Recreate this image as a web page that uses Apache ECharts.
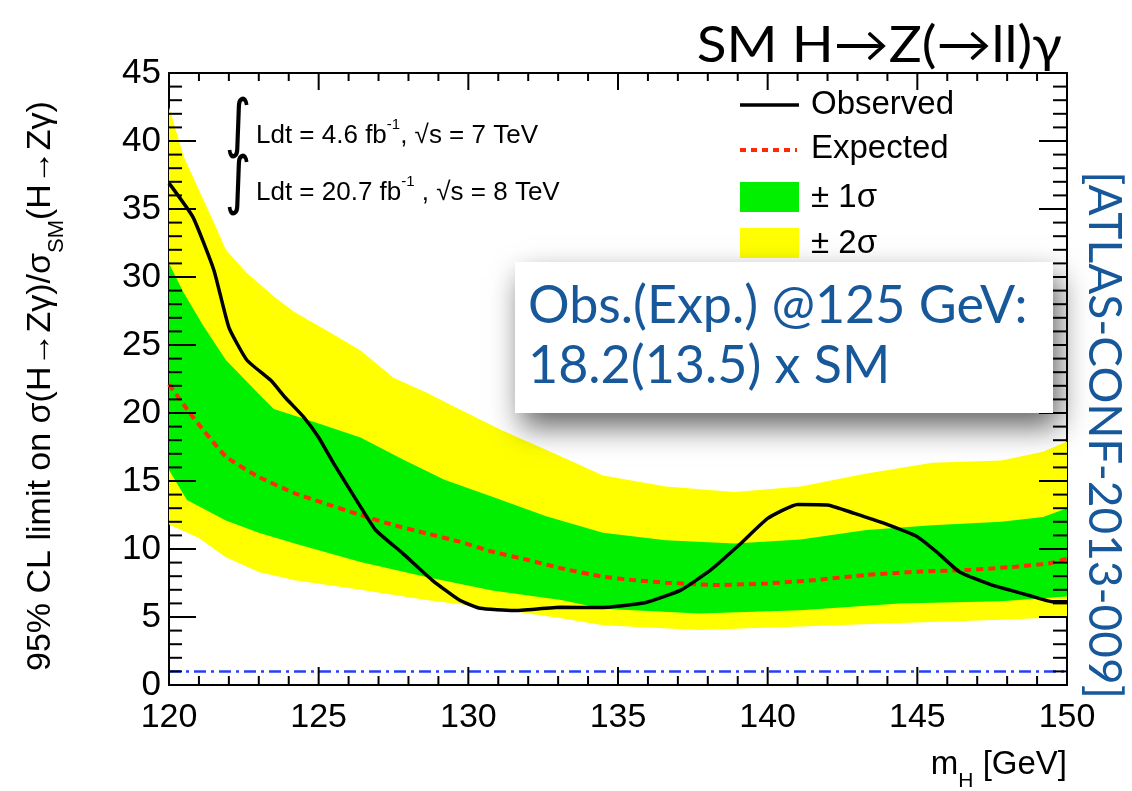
<!DOCTYPE html>
<html>
<head>
<meta charset="utf-8">
<script src="https://cdn.jsdelivr.net/npm/echarts@6/dist/echarts.min.js"></script>
<style>
  html, body { margin: 0; padding: 0; background: #ffffff; }
  #main { width: 1132px; height: 791px; }
</style>
</head>
<body>
<div id="main"></div>
<script>
// Higgs mass range [GeV] and limit range (x SM)
const massRange = [120, 150];
const limitRange = [0, 45];
const massStep = 5, limitStep = 5;

// Observed 95% CL limit, [mH, limit]
const observed = [
  [120.0, 36.9], [120.8, 34.4], [121.5, 30.5], [122.0, 26.3], [122.6, 23.9],
  [123.4, 22.4], [123.9, 21.1], [124.5, 19.7], [125.0, 18.2], [125.5, 16.3],
  [126.4, 13.1], [126.9, 11.4], [127.8, 9.7], [128.8, 7.7], [129.7, 6.25],
  [130.4, 5.64], [131.5, 5.47], [133.1, 5.71], [134.4, 5.69], [135.9, 6.05],
  [137.1, 6.98], [138.1, 8.46], [139.1, 10.4], [140.0, 12.25], [141.0, 13.28],
  [142.0, 13.24], [142.9, 12.62], [143.9, 11.88], [145.0, 10.9], [145.7, 9.68],
  [146.4, 8.33], [147.5, 7.35], [148.1, 6.98], [148.8, 6.54], [149.5, 6.13],
  [150.0, 6.13]
];

// Expected 95% CL limit (median)
const expected = [
  [120.0, 22.1], [120.8, 19.7], [121.9, 16.8], [123.0, 15.3], [124.2, 14.1],
  [125.0, 13.5], [126.4, 12.5], [127.5, 11.76], [128.6, 11.15], [129.7, 10.54],
  [130.8, 9.8], [132.0, 9.19], [133.1, 8.58], [134.5, 7.96], [135.5, 7.72],
  [136.6, 7.52], [138.3, 7.35], [140.0, 7.47], [141.6, 7.72], [143.3, 8.09],
  [145.0, 8.33], [146.7, 8.46], [148.3, 8.7], [149.4, 8.94], [150.0, 9.3]
];

// +2 sigma edge of the expected band
const band2Upper = [
  [120.0, 42.5], [120.5, 38.8], [121.0, 36.4], [121.5, 34.0], [121.9, 32.0],
  [122.6, 30.3], [123.6, 28.4], [124.2, 27.4], [125.4, 25.9], [126.4, 24.6],
  [127.5, 22.6], [128.6, 21.5], [129.5, 20.5], [131.1, 18.75], [133.1, 16.8],
  [134.5, 15.4], [136.6, 14.6], [138.9, 14.2], [141.1, 14.6], [143.3, 15.55],
  [145.5, 16.35], [147.8, 16.5], [149.2, 17.15], [150.0, 17.9]
];

// +1 sigma edge
const band1Upper = [
  [120.0, 31.0], [120.5, 28.8], [121.15, 26.4], [121.9, 23.9], [123.0, 21.4],
  [123.5, 20.3], [124.9, 19.3], [126.4, 18.2], [127.8, 16.6], [129.2, 15.1],
  [130.8, 13.85], [132.6, 12.4], [134.5, 11.2], [136.6, 10.65], [138.9, 10.4],
  [141.1, 10.7], [143.3, 11.4], [145.5, 11.75], [147.8, 12.0], [149.2, 12.35],
  [150.0, 13.0]
];

// -1 sigma edge
const band1Lower = [
  [120.0, 15.8], [120.6, 13.6], [121.9, 12.1], [123.0, 11.2], [124.2, 10.4],
  [126.4, 9.05], [128.6, 7.95], [130.8, 6.95], [133.1, 6.25], [134.5, 5.6],
  [137.7, 5.25], [141.1, 5.5], [144.4, 6.0], [147.8, 6.15], [150.0, 6.5]
];

// -2 sigma edge
const band2Lower = [
  [120.0, 11.8], [121.0, 10.8], [121.9, 9.4], [123.0, 8.3], [124.2, 7.7],
  [126.4, 7.0], [128.6, 6.25], [130.8, 5.65], [133.1, 4.9], [134.5, 4.4],
  [137.7, 4.05], [141.1, 4.3], [144.4, 4.55], [147.8, 4.8], [150.0, 5.0]
];

// SM reference (mu = 1)
const smLine = [[120, 1], [150, 1]];

const legendLabels = ['Observed', 'Expected', '± 1σ', '± 2σ'];

const SANS = '"Liberation Sans", Helvetica, Arial, sans-serif';
const GEO = 'Lato, "Open Sans", sans-serif';
const BLUE_TEXT = '#17589b';
const GREEN = '#00f000';
const YELLOW = '#ffff00';

const chart = echarts.init(document.getElementById('main'), null, { renderer: 'canvas' });

// Filled band between two edges, drawn through the cartesian coordinate system
function bandSeries(upper, lower, color, z) {
  return {
    type: 'custom',
    silent: true,
    z: z,
    data: [[135, 20]],
    renderItem: function (params, api) {
      const pts = upper.map(p => api.coord(p))
        .concat(lower.slice().reverse().map(p => api.coord(p)));
      return { type: 'polygon', shape: { points: pts }, style: { fill: color } };
    }
  };
}

function xAxisDef(pos, showLabel) {
  return {
    type: 'value', position: pos, min: massRange[0], max: massRange[1], interval: massStep,
    axisLine: { show: true, onZero: false, lineStyle: { color: '#000', width: 2 } },
    axisTick: { show: false },
    minorTick: { show: false },
    axisLabel: { show: showLabel, fontSize: 34, fontFamily: SANS, color: '#000', margin: 16,
                 showMinLabel: true, showMaxLabel: true },
    splitLine: { show: false }
  };
}
function yAxisDef(pos, showLabel) {
  return {
    type: 'value', position: pos, min: limitRange[0], max: limitRange[1], interval: limitStep,
    axisLine: { show: true, onZero: false, lineStyle: { color: '#000', width: 2 } },
    axisTick: { show: false },
    minorTick: { show: false },
    axisLabel: { show: showLabel, fontSize: 35, fontFamily: SANS, color: '#000', margin: 8,
                 showMinLabel: true, showMaxLabel: true },
    splitLine: { show: false }
  };
}

const legendX = 740, legendTextX = 811;
const legendY = [105, 149, 198, 244];

chart.setOption({
  animation: false,
  grid: { left: 169, right: 65, top: 73, bottom: 106, containLabel: false },
  xAxis: [xAxisDef('bottom', true), xAxisDef('top', false)],
  yAxis: [yAxisDef('left', true), yAxisDef('right', false)],
  series: [
    bandSeries(band2Upper, band2Lower, YELLOW, 1),
    bandSeries(band1Upper, band1Lower, GREEN, 2),
    {
      type: 'line', data: smLine, showSymbol: false, silent: true, z: 3,
      lineStyle: { color: '#2340ff', width: 2.5, type: [12, 5, 3, 5] }
    },
    {
      type: 'line', name: 'Expected', data: expected, showSymbol: false, silent: true,
      smooth: 0.15, z: 4,
      lineStyle: { color: '#ff2a00', width: 4, type: [7, 5] }
    },
    {
      type: 'line', name: 'Observed', data: observed, showSymbol: false, silent: true,
      smooth: 0.15, z: 5,
      lineStyle: { color: '#000000', width: 3.5 }
    }
  ]
});

// Inward tick comb on all four frame sides (major every 5, minor every 1),
// positioned through the grid's own value-to-pixel conversion
const toPx = p => chart.convertToPixel({ gridIndex: 0 }, p);
const tickMarks = [];
function addTick(p, dx, dy) {
  tickMarks.push({
    type: 'line', z: 50, silent: true,
    shape: { x1: p[0], y1: p[1], x2: p[0] + dx, y2: p[1] + dy },
    style: { stroke: '#000000', lineWidth: 2 }
  });
}
for (let m = massRange[0]; m <= massRange[1]; m++) {
  const major = (m - massRange[0]) % massStep === 0;
  addTick(toPx([m, limitRange[0]]), 0, major ? -18 : -9);
  addTick(toPx([m, limitRange[1]]), 0, major ? 17 : 8);
}
for (let v = limitRange[0]; v <= limitRange[1]; v++) {
  const major = (v - limitRange[0]) % limitStep === 0;
  addTick(toPx([massRange[0], v]), major ? 27 : 13, 0);
  addTick(toPx([massRange[1], v]), major ? -28 : -14, 0);
}

const annotations = [
  // heading
  { type: 'text', z: 100, x: 1062, y: 46, scaleX: 1.1,
    style: { text: 'SM H→Z(→ll)γ', fontSize: 50, fontFamily: GEO, fill: '#000',
             align: 'right', verticalAlign: 'middle' } },
  // luminosity lines
  { type: 'text', z: 100, x: 238, y: 128, scaleX: 0.8,
    style: { text: '∫', fontSize: 64, fontFamily: '"DejaVu Sans"', fill: '#000',
             align: 'center', verticalAlign: 'middle' } },
  { type: 'text', z: 100, x: 238, y: 185, scaleX: 0.8,
    style: { text: '∫', fontSize: 64, fontFamily: '"DejaVu Sans"', fill: '#000',
             align: 'center', verticalAlign: 'middle' } },
  { type: 'text', z: 100, x: 256, y: 133,
    style: { text: '{n|Ldt = 4.6 fb}{s|-1}{n|, √s = 7 TeV}', align: 'left', verticalAlign: 'middle',
             rich: { n: { fontSize: 26, fontFamily: SANS, fill: '#000', lineHeight: 32, verticalAlign: 'bottom' },
                     s: { fontSize: 15, fontFamily: SANS, fill: '#000', lineHeight: 32, verticalAlign: 'top' } } } },
  { type: 'text', z: 100, x: 256, y: 190,
    style: { text: '{n|Ldt = 20.7 fb}{s|-1}{n| , √s = 8 TeV}', align: 'left', verticalAlign: 'middle',
             rich: { n: { fontSize: 26, fontFamily: SANS, fill: '#000', lineHeight: 32, verticalAlign: 'bottom' },
                     s: { fontSize: 15, fontFamily: SANS, fill: '#000', lineHeight: 32, verticalAlign: 'top' } } } },
  // legend
  { type: 'line', z: 100, shape: { x1: legendX, y1: legendY[0], x2: legendX + 59, y2: legendY[0] },
    style: { stroke: '#000', lineWidth: 3.5 } },
  { type: 'line', z: 100, shape: { x1: legendX, y1: legendY[1] + 1, x2: legendX + 57, y2: legendY[1] + 1 },
    style: { stroke: '#ff2a00', lineWidth: 4, lineDash: [6, 5] } },
  { type: 'rect', z: 100, shape: { x: legendX, y: 182, width: 59, height: 30 }, style: { fill: GREEN } },
  { type: 'rect', z: 100, shape: { x: legendX, y: 228, width: 59, height: 30 }, style: { fill: YELLOW } },
  ...legendLabels.map((t, i) => ({
    type: 'text', z: 100, x: legendTextX, y: legendY[i],
    style: { text: t, fontSize: 33, fontFamily: SANS, fill: '#000', align: 'left', verticalAlign: 'middle' }
  })),
  // result box, above the frame ticks
  { type: 'rect', z: 110, shape: { x: 515, y: 262, width: 538, height: 151 },
    style: { fill: '#ffffff', shadowBlur: 28, shadowColor: 'rgba(0,0,0,0.6)',
             shadowOffsetX: 6, shadowOffsetY: 14 } },
  { type: 'text', z: 111, x: 528, y: 306,
    style: { text: 'Obs.(Exp.) @125 GeV:', fontSize: 52, fontFamily: GEO, fill: BLUE_TEXT,
             align: 'left', verticalAlign: 'middle' } },
  { type: 'text', z: 111, x: 528, y: 366,
    style: { text: '18.2(13.5) x SM', fontSize: 52, fontFamily: GEO, fill: BLUE_TEXT,
             align: 'left', verticalAlign: 'middle' } },
  // reference tag
  { type: 'text', z: 100, x: 1104, y: 435, rotation: -Math.PI / 2,
    style: { text: '[ATLAS-CONF-2013-009]', fontSize: 46, fontFamily: GEO, fill: BLUE_TEXT,
             align: 'center', verticalAlign: 'middle' } },
  // axis titles
  { type: 'text', z: 100, x: 46, y: 386, rotation: Math.PI / 2,
    style: { text: '{n|95% CL limit on σ(H→Zγ)/σ}{s|SM}{n|(H→Zγ)}', align: 'center', verticalAlign: 'middle',
             rich: { n: { fontSize: 34, fontFamily: SANS, fill: '#000', lineHeight: 44, verticalAlign: 'top' },
                     s: { fontSize: 22, fontFamily: SANS, fill: '#000', lineHeight: 44, verticalAlign: 'bottom' } } } },
  { type: 'text', z: 100, x: 1067, y: 770,
    style: { text: '{n|m}{s|H}{n| [GeV]}', align: 'right', verticalAlign: 'middle',
             rich: { n: { fontSize: 33, fontFamily: SANS, fill: '#000', lineHeight: 44, verticalAlign: 'top' },
                     s: { fontSize: 21, fontFamily: SANS, fill: '#000', lineHeight: 44, verticalAlign: 'bottom' } } } }
];

chart.setOption({ graphic: tickMarks.concat(annotations) });
</script>
</body>
</html>
